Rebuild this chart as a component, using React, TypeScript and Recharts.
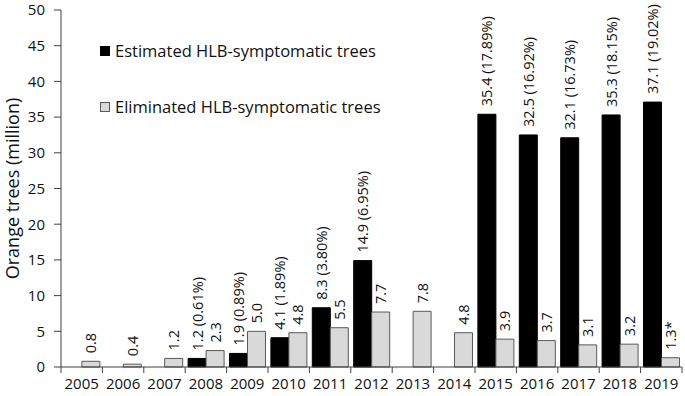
import React from "react";
import { BarChart, Bar, XAxis, YAxis, LabelList } from "recharts";

const years = ["2005", "2006", "2007", "2008", "2009", "2010", "2011", "2012", "2013", "2014", "2015", "2016", "2017", "2018", "2019"];
const estimated: (number | null)[] = [null, null, null, 1.2, 1.9, 4.1, 8.3, 14.9, null, null, 35.4, 32.5, 32.1, 35.3, 37.1];
const estimatedPct: (string | null)[] = [null, null, null, "0.61", "0.89", "1.89", "3.80", "6.95", null, null, "17.89", "16.92", "16.73", "18.15", "19.02"];
const eliminated: number[] = [0.8, 0.4, 1.2, 2.3, 5.0, 4.8, 5.5, 7.7, 7.8, 4.8, 3.9, 3.7, 3.1, 3.2, 1.3];
const eliminatedNote: string[] = ["", "", "", "", "", "", "", "", "", "", "", "", "", "", "*"];
const yTicks = [0, 5, 10, 15, 20, 25, 30, 35, 40, 45, 50];
const seriesNames = ["Estimated HLB-symptomatic trees", "Eliminated HLB-symptomatic trees"];
const yTitle = "Orange trees (million)";

const data = years.map((y, i) => ({
  year: y,
  est: estimated[i],
  elim: eliminated[i],
  estLabel: estimated[i] === null ? null : `${(estimated[i] as number).toFixed(1)} (${estimatedPct[i]}%)`,
  elimLabel: `${eliminated[i].toFixed(1)}${eliminatedNote[i]}`,
}));

const W = 685;
const H = 396;
const margin = { top: 10, right: 3, left: 0, bottom: 0 };
const Y_AXIS_W = 61;
const X_AXIS_H = 29;
const PLOT_TOP = margin.top;
const PLOT_BOTTOM = H - margin.bottom - X_AXIS_H;
const PLOT_W = W - margin.left - margin.right - Y_AXIS_W;
const STEP = PLOT_W / years.length;

const FONT = "'Open Sans', sans-serif";
const AXIS_COLOR = "#404040";
const TEXT_COLOR = "#111";

const XTick = (props: any) => {
  const { x, payload, index } = props;
  return (
    <g>
      <line x1={x - STEP / 2} x2={x - STEP / 2} y1={PLOT_BOTTOM} y2={PLOT_BOTTOM + 6} stroke={AXIS_COLOR} strokeWidth={1} />
      {index === years.length - 1 && (
        <line x1={x + STEP / 2} x2={x + STEP / 2} y1={PLOT_BOTTOM} y2={PLOT_BOTTOM + 6} stroke={AXIS_COLOR} strokeWidth={1} />
      )}
      <text x={x} y={PLOT_BOTTOM + 22} textAnchor="middle" fontSize={15} fontFamily={FONT} fill={TEXT_COLOR}>
        {payload.value}
      </text>
    </g>
  );
};

const RotLabel = (props: any) => {
  const { x, y, width, value } = props;
  if (value === null || value === undefined || value === "") return null;
  const cx = x + width / 2;
  const ty = y - 8;
  return (
    <text
      x={cx}
      y={ty}
      transform={`rotate(-90 ${cx} ${ty})`}
      textAnchor="start"
      dominantBaseline="central"
      fontSize={14.5}
      fontFamily={FONT}
      fill={TEXT_COLOR}
    >
      {value}
    </text>
  );
};

const YTitle = () => {
  const cx = 19;
  const cy = (PLOT_TOP + PLOT_BOTTOM) / 2;
  return (
    <text
      x={cx}
      y={cy}
      transform={`rotate(-90 ${cx} ${cy})`}
      textAnchor="middle"
      fontSize={18}
      fontFamily={FONT}
      fill={TEXT_COLOR}
    >
      {yTitle}
    </text>
  );
};

const LegendBox = () => (
  <div style={{ position: "absolute", left: 100, top: 40, fontFamily: FONT, fontSize: 16.5, color: TEXT_COLOR, lineHeight: "22px" }}>
    <div style={{ display: "flex", alignItems: "center", height: 22 }}>
      <span style={{ display: "inline-block", width: 8, height: 8, background: "#000", border: "1px solid #000", marginRight: 5 }} />
      <span>{seriesNames[0]}</span>
    </div>
    <div style={{ display: "flex", alignItems: "center", height: 22, marginTop: 34 }}>
      <span style={{ display: "inline-block", width: 8, height: 8, background: "#d9d9d9", border: "1px solid #595959", marginRight: 5 }} />
      <span>{seriesNames[1]}</span>
    </div>
  </div>
);

export default function App() {
  return (
    <div style={{ position: "absolute", left: 0, top: 0, width: W, height: H, background: "#fff" }}>
      <BarChart width={W} height={H} data={data} margin={margin} barCategoryGap="7%" barGap={0}>
        <XAxis
          dataKey="year"
          height={X_AXIS_H}
          tickLine={false}
          axisLine={{ stroke: AXIS_COLOR }}
          tick={<XTick />}
          interval={0}
        />
        <YAxis
          width={Y_AXIS_W}
          domain={[0, 50]}
          ticks={yTicks}
          interval={0}
          tickSize={7}
          tickMargin={9}
          tickLine={{ stroke: AXIS_COLOR }}
          axisLine={{ stroke: AXIS_COLOR }}
          tick={{ fontSize: 15, fontFamily: FONT, fill: TEXT_COLOR }}
          label={<YTitle />}
        />
        <Bar dataKey="est" name={seriesNames[0]} fill="#000" stroke="#000" isAnimationActive={false}>
          <LabelList dataKey="estLabel" content={<RotLabel />} />
        </Bar>
        <Bar dataKey="elim" name={seriesNames[1]} fill="#d9d9d9" stroke="#595959" strokeWidth={1} isAnimationActive={false}>
          <LabelList dataKey="elimLabel" content={<RotLabel />} />
        </Bar>
      </BarChart>
      <LegendBox />
    </div>
  );
}
